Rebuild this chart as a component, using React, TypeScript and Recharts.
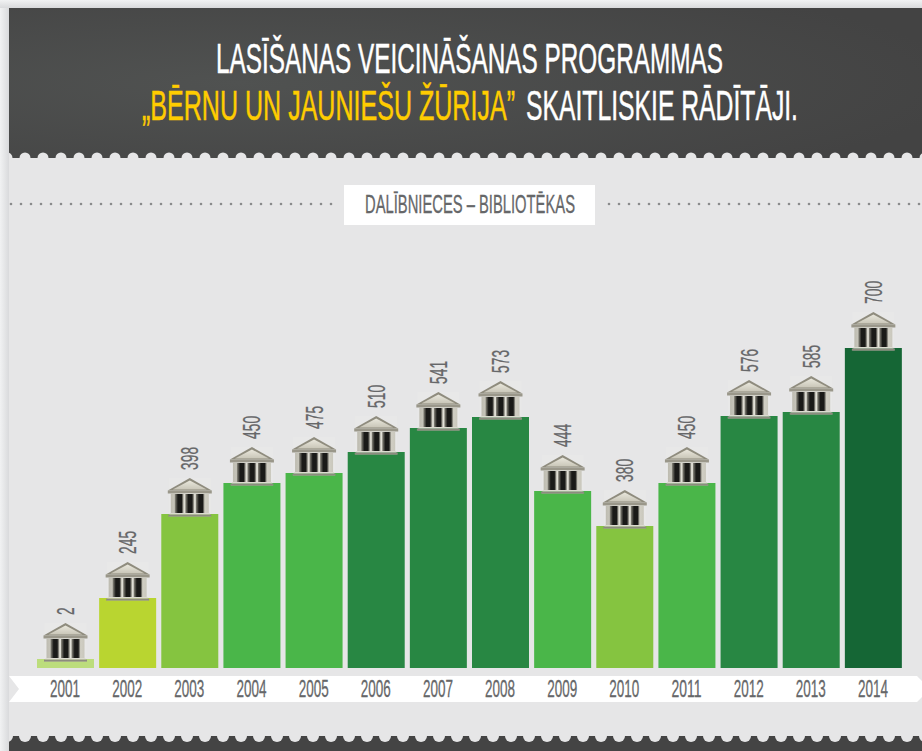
import React from "react";
import { BarChart, Bar, XAxis, YAxis, Cell, LabelList } from "recharts";

const years = ["2001","2002","2003","2004","2005","2006","2007","2008","2009","2010","2011","2012","2013","2014"];
// Printed figures
const printedValues = [2,245,398,450,475,510,541,573,444,380,450,576,585,700];
// Bar lengths as drawn in the infographic (not proportional to the printed figures)
const drawnLengths = [9,70,154,185,195,216,240,251,177,142,185,252,256,320];
const barColors = ["#bcdd7c","#b9d530","#85c440","#4ab649","#4ab649","#288743","#288743","#288743","#4ab649","#85c440","#4ab649","#288743","#288743","#156635"];

const data = years.map((year, i) => ({ year, length: drawnLengths[i], value: printedValues[i] }));

const FONT = "'Liberation Sans Narrow','Liberation Sans',sans-serif";

function Bank({ cx, top }: { cx: number; top: number }) {
  const gaps = [-15, -4.5, 6];
  return (
    <g transform={`translate(${cx},${top - 36})`}>
      <rect x={-21} y={0} width={42} height={39} fill="#efefed" opacity={0.25} />
      <polygon points="0,0 22,12.5 -22,12.5" fill="#8f8c7e" />
      <polygon points="0,2.5 17,11.5 -17,11.5" fill="url(#roof)" />
      <rect x={-22} y={12.5} width={44} height={3} fill="#9a978a" />
      <rect x={-19} y={15.5} width={38} height={20} fill="url(#wall)" />
      {gaps.map((c) => (
        <rect key={c} x={c} y={16} width={9} height={19} fill="url(#gap)" />
      ))}
      <rect x={-20} y={35} width={40} height={1.6} fill="#dcdbd0" />
      <rect x={-21.5} y={36.6} width={43} height={2} fill="#8d8b7f" />
    </g>
  );
}

function IconLabel(props: any) {
  const { x, y, width } = props;
  return <Bank cx={x + width / 2} top={y} />;
}

function ValueLabel(props: any) {
  const { x, y, width, value } = props;
  const cx = x + width / 2;
  const ty = y - 44;
  const len = String(value).length * 7.7;
  return (
    <text
      transform={`translate(${cx + 8.5},${ty}) rotate(-90)`}
      fontFamily={FONT}
      fontSize={23}
      fill="#666769"
      stroke="#666769"
      strokeWidth={0.25}
      textLength={len}
      lengthAdjust="spacingAndGlyphs"
    >
      {value}
    </text>
  );
}

function YearTick(props: any) {
  const { x, payload } = props;
  return (
    <text
      x={x}
      y={697}
      textAnchor="middle"
      fontFamily={FONT}
      fontSize={23}
      fill="#666769"
      stroke="#666769"
      strokeWidth={0.3}
      textLength={30}
      lengthAdjust="spacingAndGlyphs"
    >
      {payload.value}
    </text>
  );
}

function Backdrop() {
  const top: number[] = [];
  for (let x = 7; x < 930; x += 18) top.push(x);
  const leftDots: number[] = [];
  for (let x = 11; x <= 332; x += 10) leftDots.push(x);
  const rightDots: number[] = [];
  for (let x = 609; x <= 922; x += 10) rightDots.push(x);
  return (
    <svg width={922} height={751} style={{ position: "absolute", left: 0, top: 0 }}>
      <defs>
        <radialGradient id="hdr" cx="25%" cy="50%" r="80%">
          <stop offset="0%" stopColor="#505251" />
          <stop offset="100%" stopColor="#434343" />
        </radialGradient>
        <linearGradient id="edge" x1="0" x2="1" y1="0" y2="0">
          <stop offset="0%" stopColor="#f1f2f3" />
          <stop offset="100%" stopColor="#d9dadc" />
        </linearGradient>
        <linearGradient id="edgeT" x1="0" x2="0" y1="0" y2="1">
          <stop offset="0%" stopColor="#f1f2f3" />
          <stop offset="100%" stopColor="#d9dadc" />
        </linearGradient>
        <linearGradient id="gap" x1="0" x2="1" y1="0" y2="0">
          <stop offset="0%" stopColor="#8f8d82" />
          <stop offset="35%" stopColor="#1a1a18" />
          <stop offset="75%" stopColor="#1a1a18" />
          <stop offset="100%" stopColor="#c9c7bb" />
        </linearGradient>
        <linearGradient id="wall" x1="0" x2="1" y1="0" y2="0">
          <stop offset="0%" stopColor="#bdbbb0" />
          <stop offset="50%" stopColor="#ecebe3" />
          <stop offset="100%" stopColor="#c9c7bc" />
        </linearGradient>
        <linearGradient id="roof" x1="0" x2="0" y1="0" y2="1">
          <stop offset="0%" stopColor="#e9e7dc" />
          <stop offset="100%" stopColor="#c9c6b8" />
        </linearGradient>
      </defs>
      <rect x={0} y={0} width={922} height={751} fill="#eff0f1" />
      <rect x={0} y={0} width={9} height={751} fill="url(#edge)" />
      <rect x={0} y={0} width={922} height={8} fill="url(#edgeT)" />
      <rect x={9} y={8} width={913} height={743} fill="#e6e6e7" />
      <rect x={9} y={8} width={913} height={150} fill="url(#hdr)" />
      <clipPath id="panel"><rect x={9} y={8} width={913} height={743} /></clipPath>
      <g clipPath="url(#panel)">
        {top.map((x) => <circle key={x} cx={x} cy={158} r={5.5} fill="#e6e6e7" />)}
        <rect x={9} y={736} width={913} height={15} fill="#444444" />
        {top.map((x) => <circle key={x} cx={x} cy={736} r={6} fill="#e6e6e7" />)}
      </g>
      {leftDots.map((x) => <circle key={x} cx={x} cy={204} r={1.3} fill="#8a8b8c" />)}
      {rightDots.map((x) => <circle key={x} cx={x} cy={204} r={1.3} fill="#8a8b8c" />)}
      <rect x={344} y={185} width={251} height={40} fill="#ffffff" />
      <polygon points="9,676 917,676 922,681 922,697 917,702 9,702 19,689" fill="#ffffff" />
      <g fontFamily={FONT}>
        <text transform="translate(216,73) scale(1,2)" fontSize={21.5} fill="#ffffff" stroke="#ffffff" strokeWidth={0.25} textLength={507} lengthAdjust="spacingAndGlyphs">
          LASĪŠANAS VEICINĀŠANAS PROGRAMMAS
        </text>
        <text transform="translate(142,120) scale(1,2)" fontSize={21.5} fill="#ffcc00" stroke="#ffcc00" strokeWidth={0.25} textLength={373} lengthAdjust="spacingAndGlyphs">
          „BĒRNU UN JAUNIEŠU ŽŪRIJA”
        </text>
        <text transform="translate(526,120) scale(1,2)" fontSize={21.5} fill="#ffffff" stroke="#ffffff" strokeWidth={0.25} textLength={272} lengthAdjust="spacingAndGlyphs">
          SKAITLISKIE RĀDĪTĀJI.
        </text>
        <text x={365} y={213} fontSize={25} fill="#666769" stroke="#666769" strokeWidth={0.3} textLength={210} lengthAdjust="spacingAndGlyphs">
          DALĪBNIECES – BIBLIOTĒKAS
        </text>
      </g>
    </svg>
  );
}

export default function App() {
  return (
    <div style={{ position: "absolute", left: 0, top: 0, width: 922, height: 751, overflow: "hidden" }}>
      <Backdrop />
      <div style={{ position: "absolute", left: 0, top: 0 }}>
        <BarChart
          width={922}
          height={751}
          data={data}
          margin={{ top: 268, right: 18, bottom: 43, left: 34 }}
          barSize={57}
        >
          <XAxis dataKey="year" axisLine={false} tickLine={false} height={40} interval={0} tick={<YearTick />} />
          <YAxis hide domain={[0, 400]} />
          <Bar dataKey="length" isAnimationActive={false}>
            {data.map((d, i) => <Cell key={d.year} fill={barColors[i]} />)}
            <LabelList dataKey="value" content={<IconLabel />} />
            <LabelList dataKey="value" content={<ValueLabel />} />
          </Bar>
        </BarChart>
      </div>
    </div>
  );
}
